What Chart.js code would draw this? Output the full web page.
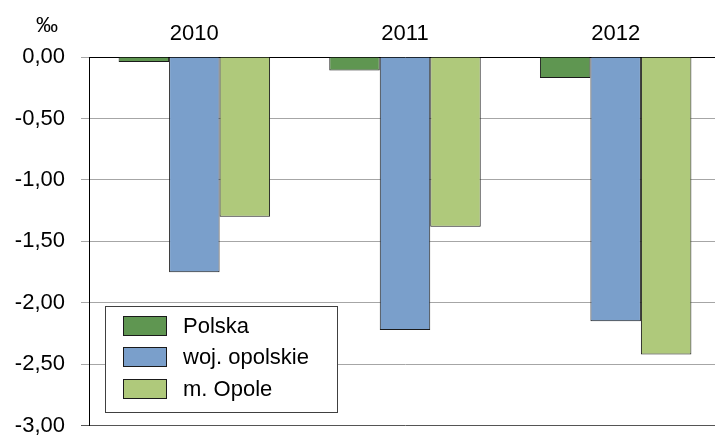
<!DOCTYPE html>
<html>
<head>
<meta charset="utf-8">
<script src="https://cdn.jsdelivr.net/npm/chart.js@4/dist/chart.umd.min.js"></script>
<style>
  html, body { margin: 0; padding: 0; background: #fff; overflow: hidden; }
  #wrap { position: relative; width: 722px; height: 455px; }
</style>
</head>
<body>
<div id="wrap"><canvas id="c"></canvas></div>
<script>
const categories = ['2010', '2011', '2012'];
const polska = [-0.04, -0.11, -0.17];
const wojOpolskie = [-1.75, -2.22, -2.15];
const mOpole = [-1.30, -1.38, -2.42];
const seriesNames = ['Polska', 'woj. opolskie', 'm. Opole'];
const unitLabel = '‰';

const FONT = '"Liberation Sans", Arial, sans-serif';
const FS = 22;

const legendBox = {
  id: 'legendBox',
  afterDraw(chart) {
    const ctx = chart.ctx;
    const a = chart.chartArea;
    ctx.save();
    ctx.fillStyle = '#000';
    ctx.font = FS + 'px ' + FONT;
    ctx.textAlign = 'center';
    ctx.textBaseline = 'alphabetic';
    ctx.fillText(unitLabel, 47, 32);
    const x0 = a.left + 16.5, y0 = 306.5, w = 232, h = 106;
    ctx.fillStyle = '#fff';
    ctx.fillRect(x0, y0, w, h);
    ctx.strokeStyle = '#404040';
    ctx.lineWidth = 1;
    ctx.strokeRect(x0, y0, w, h);
    const rows = [316, 347, 379];
    chart.data.datasets.forEach((ds, i) => {
      const ry = rows[i];
      ctx.fillStyle = ds.backgroundColor;
      ctx.fillRect(a.left + 34.5, ry + 0.5, 43, 19);
      ctx.strokeStyle = '#1a1a1a';
      ctx.strokeRect(a.left + 34.5, ry + 0.5, 43, 19);
      ctx.fillStyle = '#000';
      ctx.font = FS + 'px ' + FONT;
      ctx.textAlign = 'left';
      ctx.textBaseline = 'middle';
      ctx.fillText(ds.label, a.left + 94, ry + 10.5);
    });
    ctx.restore();
  }
};

new Chart(document.getElementById('c'), {
  type: 'bar',
  data: {
    labels: categories,
    datasets: [
      { label: seriesNames[0], data: polska, backgroundColor: '#5f9651', borderColor: '#1a1a1a', borderWidth: 1 },
      { label: seriesNames[1], data: wojOpolskie, backgroundColor: '#7a9fcb', borderColor: '#1a1a1a', borderWidth: 1 },
      { label: seriesNames[2], data: mOpole, backgroundColor: '#afc97b', borderColor: '#1a1a1a', borderWidth: 1 }
    ]
  },
  options: {
    responsive: true,
    maintainAspectRatio: false,
    animation: false,
    layout: { padding: { left: 0, right: 1, top: 0, bottom: 0 } },
    plugins: {
      legend: { display: false },
      tooltip: { enabled: false }
    },
    datasets: {
      bar: { categoryPercentage: 0.719, barPercentage: 1.0 }
    },
    scales: {
      x: {
        position: 'top',
        grid: { display: false, drawTicks: false },
        border: { display: true, color: '#000', width: 1 },
        ticks: { color: '#000', font: { family: FONT, size: FS }, padding: 10 },
        afterFit(s) { s.height = 57; }
      },
      y: {
        min: -3, max: 0,
        ticks: {
          stepSize: 0.5,
          color: '#000',
          font: { family: FONT, size: FS },
          padding: 16,
          callback: (v) => (Math.abs(v) < 1e-9 ? 0 : v).toFixed(2).replace('.', ',')
        },
        grid: {
          color: (c) => (c.tick && c.tick.value === -3) ? '#555' : '#a6a6a6',
          tickLength: 8,
          lineWidth: 1
        },
        border: { display: true, color: '#000', width: 1 },
        afterFit(s) { s.width = 89; }
      }
    }
  },
  plugins: [legendBox]
});
</script>
</body>
</html>
